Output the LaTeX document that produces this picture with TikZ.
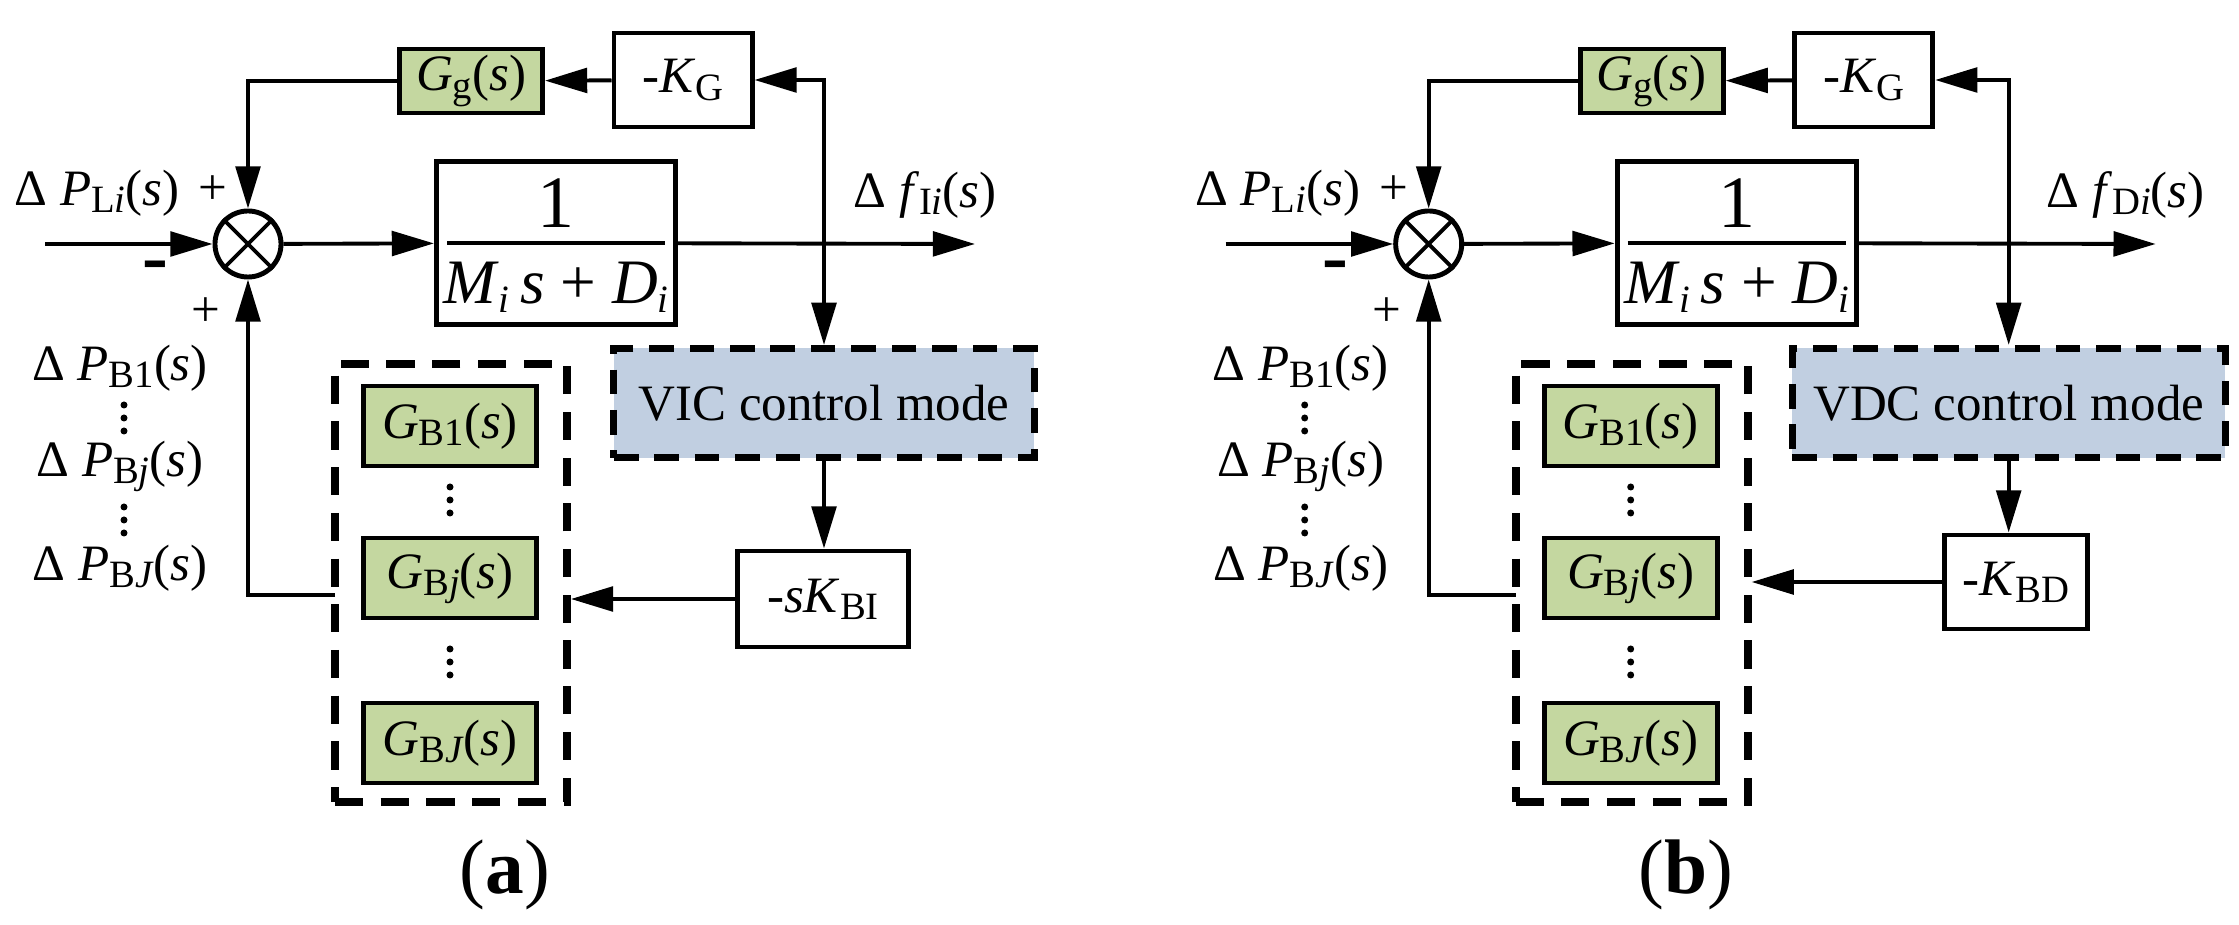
\documentclass[tikz,border=0pt]{standalone}
\usepackage{fontspec}
\setmainfont{Liberation Serif}
\usetikzlibrary{arrows.meta}
\definecolor{gfill}{RGB}{196,215,160}
\definecolor{bfill}{RGB}{193,207,225}
\newcommand\sbs[1]{\raisebox{-0.3ex}{\fontsize{11}{12}\selectfont #1}}
\tikzset{
  every node/.style={font=\fontsize{14.5}{17}\selectfont, inner sep=0pt},
  blk/.style={draw, line width=1.4pt},
  gbox/.style={blk, fill=gfill, minimum width=1.73cm, minimum height=0.8cm},
  modebox/.style={fill=bfill, draw, line width=2pt, dash pattern=on 7pt off 4.5pt, minimum height=1.09cm},
  grpbox/.style={draw, line width=2.2pt, dash pattern=on 8pt off 5pt},
  ln/.style={line width=1.1pt},
  arr/.style={ln, -{Triangle[length=12pt,width=7pt]}},
  barr/.style={ln, {Triangle[length=12pt,width=7pt]}-{Triangle[length=12pt,width=7pt]}},
}
\newcommand\vdts[2]{\foreach \dy in {-13,0,13} \fill (#1,#2+\dy) circle (3.5);}
\newcommand\mypanel[1]{%
  \node[circle, draw, line width=1.4pt, minimum size=0.66cm] (#1s) at (248,244) {};
  \draw[ln] (#1s.north west) -- (#1s.south east) (#1s.north east) -- (#1s.south west);
  \node[blk, minimum width=2.39cm, minimum height=1.62cm] (#1m) at (556,243) {};
  \node[font=\fontsize{21}{22}\selectfont] (#1num) at (556,203) {1};
  \draw[line width=1.4pt] (447,243) -- (665,243);
  \node[font=\fontsize{18}{20}\selectfont] (#1den) at (556,287) {\textit{M}\sbs{\textit{i}}\,\textit{s} + \textit{D}\sbs{\textit{i}}};
  \node[gbox, minimum width=1.43cm, minimum height=0.64cm] (#1gg) at (471,81) {\textit{G}\sbs{g}(\textit{s})};
  \node[blk, minimum width=1.38cm, minimum height=0.94cm] (#1kg) at (683,80) {-\textit{K}\sbs{G}};
  \node[modebox, minimum width=\vicw] (#1v) at (\vicx,403) {\modetext};
  \node[grpbox, minimum width=2.32cm, minimum height=4.38cm] (#1grp) at (451,583) {};
  \node[gbox] (#1g1) at (450,426) {\textit{G}\sbs{B1}(\textit{s})};
  \node[gbox] (#1gj) at (450,578) {\textit{G}\sbs{B\textit{j}}(\textit{s})};
  \node[gbox] (#1gJ) at (450,743) {\textit{G}\sbs{B\textit{J}}(\textit{s})};
  \vdts{450}{500}
  \vdts{450}{662}
  \node[blk, minimum width=\kbw, minimum height=\kbh] (#1kb) at (\kbx,\kby) {\ktext};
  \coordinate (#1in) at (45,244);
  \coordinate (#1out) at (975,244);
  \coordinate (#1fb) at (335,595);
  \draw[arr] (#1in) -- (#1s);
  \draw[arr] (#1s) -- (#1m);
  \draw[arr] (#1m) -- (#1out);
  \draw[arr] (#1kg) -- (#1gg);
  \draw[arr] (#1gg.west) -| (#1s.north);
  \draw[arr] (#1fb) -| (#1s.south);
  \draw[barr] (#1kg.east) -| (#1v.north);
  \draw[arr] (#1v.south) -- (#1v.south |- #1kb.north);
  \draw[arr] (#1kb.west) -- (#1kb.west -| #1grp.east);
  \node (#1lpl) at (97,193) {Δ \textit{P}\sbs{L\textit{i}}(\textit{s})};
  \node (#1p1) at (213,190) {+};
  \node[font=\fontsize{22}{22}\selectfont\bfseries] (#1mi) at (155,272) {-};
  \node (#1p2) at (206,312) {+};
  \node (#1lf) at (\outx,195) {\outtext};
  \node (#1b1) at (120,368) {Δ \textit{P}\sbs{B1}(\textit{s})};
  \vdts{124}{418}
  \node (#1bj) at (120,466) {Δ \textit{P}\sbs{B\textit{j}}(\textit{s})};
  \vdts{124}{520}
  \node (#1bJ) at (120,568) {Δ \textit{P}\sbs{B\textit{J}}(\textit{s})};
  \node[font=\fontsize{22}{24}\selectfont] (#1cap) at (505,875) {(\textbf{\panelletter})};
}
\begin{document}
\begin{tikzpicture}[x=0.01cm, y=-0.01cm]
\useasboundingbox (0,0) rectangle (2239,925);
\begin{scope}
\def\vicx{824}\def\vicw{4.20cm}\def\modetext{VIC control mode}
\def\kbx{823}\def\kby{599}\def\kbw{1.71cm}\def\kbh{0.96cm}
\def\ktext{-\textit{sK}\sbs{BI}}
\def\outx{925}\def\outtext{Δ \textit{f}\sbs{I\textit{i}}(\textit{s})}
\def\panelletter{a}
\mypanel{a}
\end{scope}
\begin{scope}[xshift=11.8cm]
\def\vicx{828}\def\vicw{4.33cm}\def\modetext{VDC control mode}
\def\kbx{835}\def\kby{582}\def\kbw{1.43cm}\def\kbh{0.94cm}
\def\ktext{-\textit{K}\sbs{BD}}
\def\outx{945}\def\outtext{Δ \textit{f}\sbs{D\textit{i}}(\textit{s})}
\def\panelletter{b}
\mypanel{b}
\end{scope}
\end{tikzpicture}
\end{document}
